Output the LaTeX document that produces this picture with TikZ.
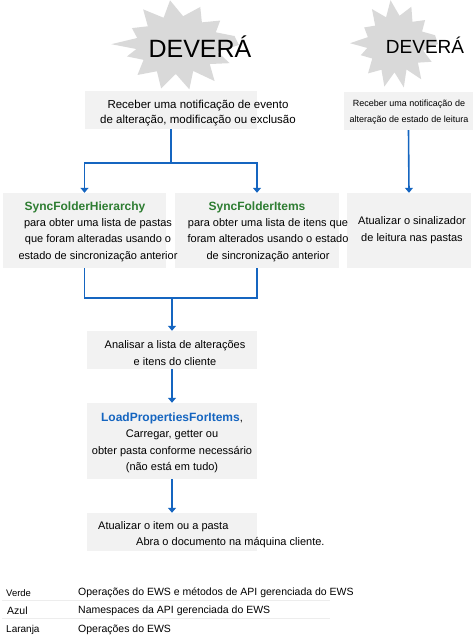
\documentclass[tikz,border=0pt]{standalone}
\usepackage{fontspec}
\setmainfont{Liberation Sans}
\usepackage{xcolor}
\usepackage{tikz}
\usetikzlibrary{arrows.meta}
\usetikzlibrary{calc,positioning}

\definecolor{verde}{RGB}{46,125,50}
\definecolor{azul}{RGB}{21,101,192}
\definecolor{cinza}{RGB}{242,242,242}
\definecolor{estrela}{RGB}{217,217,217}

\newcommand{\explosao}[3]{%
	\fill[estrela, shift={#1}, xscale=#2, yscale=#3]
	(0:42) \foreach \a/\r in {14/28, 27/40, 41/29, 55/44, 68/28, 80/45,
		93/29, 105/45, 119/30, 133/41, 148/28, 162/37, 172/29, 181/46,
		194/29, 208/36, 222/28, 236/43, 250/29, 263/45, 277/29, 292/41,
		306/28, 320/38, 334/29, 347/40} {-- (\a:\r)} -- cycle;}

\begin{document}
\begin{tikzpicture}[x=1pt, y=-1pt, font=\fontsize{11}{16.5}\selectfont]
			\tikzstyle{caixa}=[fill=cinza, inner sep=0pt]
			\tikzstyle{texto}=[inner sep=0pt, align=center]
			\tikzstyle{titulo}=[inner sep=0pt, font=\fontsize{12}{14}\selectfont\bfseries]
			\tikzstyle{fluxo}=[draw=azul, line width=1.6pt]
			\tikzstyle{seta}=[fluxo, -{Triangle[width=8pt, length=5pt]}]
			\tikzstyle{legenda}=[inner sep=0pt, anchor=west]
			
			\useasboundingbox (0,0) rectangle (475,637);
			
			\coordinate (estrela1) at (178,45);
			\coordinate (estrela2) at (396,44);
			\explosao{(estrela1)}{1.45}{1}
			\explosao{(estrela2)}{1.0}{0.98}
			\node[inner sep=0pt, font=\fontsize{25}{25}\selectfont] (deve1) at (200,47) {DEVERÁ};
			\node[inner sep=0pt, font=\fontsize{19}{19}\selectfont] (deve2) at (425,45) {DEVERÁ};
			
			\node[caixa, minimum width=172pt, minimum height=38pt] (recv) at (171,110) {};
			\node[caixa, minimum width=163pt, minimum height=75pt] (hier) at (84.5,230.5) {};
			\node[caixa, minimum width=164pt, minimum height=75pt] (items) at (257,230.5) {};
			\node[caixa, minimum width=129pt, minimum height=38pt] (lidorecv) at (408.5,111) {};
			\node[caixa, minimum width=124pt, minimum height=75pt] (lidoupd) at (409,230.5) {};
			\node[caixa, minimum width=170pt, minimum height=38pt] (analise) at (172,350) {};
			\node[caixa, minimum width=170pt, minimum height=76pt] (load) at (172,441) {};
			\node[caixa, minimum width=170pt, minimum height=38pt] (atual) at (172,532) {};
			
			\node[texto, font=\fontsize{11.5}{15}\selectfont] (recvtxt) at (198,113) {Receber uma notificação de evento\\de alteração, modificação ou exclusão};
			\node[texto, font=\fontsize{9}{16}\selectfont] (lidorecvtxt) at (409,112) {Receber uma notificação de\\alteração de estado de leitura};
			
			\node[titulo, text=verde] (hiertit) at (85,207) {SyncFolderHierarchy};
			\node[texto] (hiertxt) at (98,240) {para obter uma lista de pastas\\que foram alteradas usando o\\estado de sincronização anterior};
			\node[titulo, text=verde] (itemstit) at (257,207) {SyncFolderItems};
			\node[texto] (itemstxt) at (268,240) {para obter uma lista de itens que\\foram alterados usando o estado\\de sincronização anterior};
			\node[texto] (lidoupdtxt) at (412,230) {Atualizar o sinalizador\\de leitura nas pastas};
			
			\node[texto] (analisetxt) at (175,353) {Analisar a lista de alterações\\e itens do cliente};
			\node[texto] (loadtxt) at (172,443) {{\fontsize{12}{14}\selectfont\bfseries\color{azul}LoadPropertiesForItems},\\Carregar, getter ou\\obter pasta conforme necessário\\(não está em tudo)};
			\node[texto, anchor=west] (atual1) at (98,527) {Atualizar o item ou a pasta};
			\node[texto, anchor=west] (atual2) at (136,543) {Abra o documento na máquina cliente.};
			
			\coordinate (divide) at (171,163);
			\coordinate (junta) at (172,298);
			
			\draw[fluxo] (recv.south) -- (divide);
			\draw[seta] (divide) -| (hier.north);
			\draw[seta] (divide) -| (items.north);
			\draw[seta] (lidorecv.south) -- (lidoupd.north);
			
			\draw[fluxo] (hier.south) |- (junta) -| (items.south);
			\draw[seta] (junta) -- (analise.north);
			\draw[seta] (analise.south) -- (load.north);
			\draw[seta] (load.south) -- (atual.north);
			
			\draw[black!7] (2,600) -- (330,600);
			\draw[black!7] (2,618) -- (330,618);
			\node[legenda, font=\fontsize{9.5}{11}\selectfont] (verde) at (6,593) {Verde};
			\node[legenda, font=\fontsize{10.5}{12}\selectfont] (azul) at (7,611) {Azul};
			\node[legenda, font=\fontsize{10}{12}\selectfont] (laranja) at (6,630) {Laranja};
			\node[legenda, font=\fontsize{10.5}{12}\selectfont] (verdetxt) at (78,593) {Operações do EWS e métodos de API gerenciada do EWS};
			\node[legenda, font=\fontsize{10.5}{12}\selectfont] (azultxt) at (78,611) {Namespaces da API gerenciada do EWS};
			\node[legenda, font=\fontsize{10.5}{12}\selectfont] (laranjatxt) at (78,630) {Operações do EWS};
\end{tikzpicture}
\end{document}
